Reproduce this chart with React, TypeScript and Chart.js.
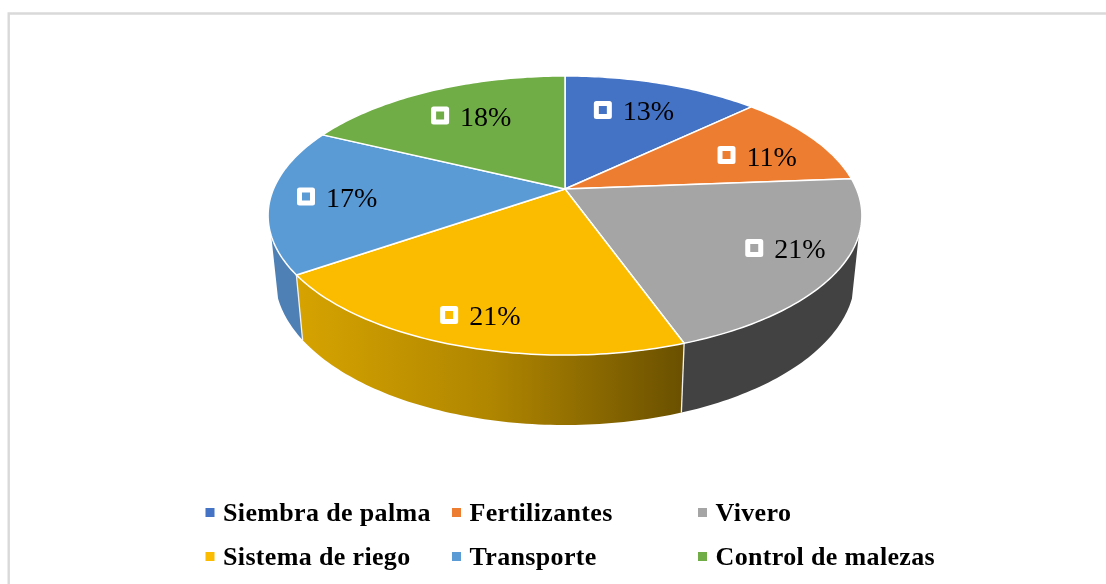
import React, { useEffect, useRef } from "react";
import { Chart, registerables } from "chart.js";

Chart.register(...registerables);

const categories = ["Siembra de palma", "Fertilizantes", "Vivero", "Sistema de riego", "Transporte", "Control de malezas"];
const shares = [13, 11, 21, 21, 17, 18];
const percentLabels = ["13%", "11%", "21%", "21%", "17%", "18%"];
const topColors = ["#4472C4", "#ED7D31", "#A5A5A5", "#FBBC00", "#5B9BD5", "#70AD47"];
const wallColors = ["#2F5597", "#A5561F", "#424242", "gradient", "#4E80B5", "#4E7A31"];

// Perspective of the pie disc: maps the unit disc to the screen.
const CX = 565, CY = 189, AX = 291.5, BY = 134.5, K = -0.19;
const WALL_SCALE_X = 0.977, WALL_SCALE_Y = 1.0625, WALL_DROP = 59.6;
const WALL_FROM = (109.1 * Math.PI) / 180, WALL_TO = (250.9 * Math.PI) / 180;
const LABEL_R = 0.72;
const labelNudgeX = [-6, 9.5, 28.5, -12.5, -18, 4.5];
const labelNudgeY = [0, 3.4, 2, 20, 0, 0];

const FONT = '"Liberation Serif", "Times New Roman", serif';

const top = (th: number, r = 1) => {
  const x = r * Math.sin(th), y = -r * Math.cos(th), d = 1 + K * y;
  return [CX + (AX * x) / d, CY + (BY * y) / d];
};
const bottom = (th: number) => {
  const x = Math.sin(th), y = -Math.cos(th), d = 1 + K * y;
  return [CX + (WALL_SCALE_X * AX * x) / d, CY + WALL_DROP + (WALL_SCALE_Y * BY * y) / d];
};

const pie3d = {
  id: "pie3d",
  beforeDraw(chart: any) {
    const { ctx, width, height } = chart;
    ctx.save();
    ctx.fillStyle = "#ffffff";
    ctx.fillRect(0, 0, width, height);
    ctx.strokeStyle = "#D9D9D9";
    ctx.lineWidth = 2.4;
    ctx.beginPath();
    ctx.moveTo(8.7, height + 2);
    ctx.lineTo(8.7, 13.5);
    ctx.lineTo(width + 2, 13.5);
    ctx.stroke();
    ctx.restore();
  },
  beforeDatasetDraw(chart: any) {
    const { ctx } = chart;
    const arcs = chart.getDatasetMeta(0).data;
    const angle = (a: any) => [a.startAngle + Math.PI / 2, a.endAngle + Math.PI / 2];
    ctx.save();
    ctx.lineJoin = "round";

    // side walls
    arcs.forEach((arc: any, i: number) => {
      const [s0, e0] = angle(arc);
      const s = Math.max(s0, WALL_FROM), e = Math.min(e0, WALL_TO);
      if (e <= s) return;
      const n = Math.ceil(((e - s) * 180) / Math.PI);
      ctx.beginPath();
      for (let j = 0; j <= n; j++) {
        const p = top(s + ((e - s) * j) / n);
        j ? ctx.lineTo(p[0], p[1]) : ctx.moveTo(p[0], p[1]);
      }
      for (let j = n; j >= 0; j--) {
        const p = bottom(s + ((e - s) * j) / n);
        ctx.lineTo(p[0], p[1]);
      }
      ctx.closePath();
      if (wallColors[i] === "gradient") {
        const a = top(e), b = top(s);
        const g = ctx.createLinearGradient(a[0], 0, b[0], 0);
        g.addColorStop(0, "#D6A300");
        g.addColorStop(0.5, "#B08600");
        g.addColorStop(1, "#6A5000");
        ctx.fillStyle = g;
      } else ctx.fillStyle = wallColors[i];
      ctx.fill();
    });
    // seams between walls
    ctx.strokeStyle = "#F2F2F2";
    ctx.lineWidth = 1.3;
    arcs.forEach((arc: any) => {
      const e = angle(arc)[1];
      if (e <= WALL_FROM || e >= WALL_TO) return;
      const a = top(e), b = bottom(e);
      ctx.beginPath();
      ctx.moveTo(a[0], a[1]);
      ctx.lineTo(b[0], b[1]);
      ctx.stroke();
    });

    // top faces
    ctx.strokeStyle = "#ffffff";
    ctx.lineWidth = 1.5;
    arcs.forEach((arc: any, i: number) => {
      const [s, e] = angle(arc);
      const n = Math.ceil(((e - s) * 180) / Math.PI);
      ctx.beginPath();
      ctx.moveTo(CX, CY);
      for (let j = 0; j <= n; j++) {
        const p = top(s + ((e - s) * j) / n);
        ctx.lineTo(p[0], p[1]);
      }
      ctx.closePath();
      ctx.fillStyle = topColors[i];
      ctx.fill();
      ctx.stroke();
    });

    // data labels
    ctx.textBaseline = "alphabetic";
    arcs.forEach((arc: any, i: number) => {
      const [s, e] = angle(arc);
      const p = top((s + e) / 2, LABEL_R);
      const cx = p[0] + labelNudgeX[i], cy = p[1] + labelNudgeY[i];
      const mx = cx - 29.5;
      ctx.strokeStyle = "#ffffff";
      ctx.lineWidth = 5;
      ctx.lineJoin = "round";
      ctx.strokeRect(mx - 6.5, cy - 6.5, 13, 13);
      ctx.fillStyle = "#000000";
      ctx.font = `28px ${FONT}`;
      ctx.textAlign = "left";
      ctx.fillText(percentLabels[i], cx - 9.5, cy + 10.5);
    });

    // legend
    const cols = [205.5, 452, 698];
    const rows = [512, 556];
    ctx.font = `bold 26px ${FONT}`;
    ctx.letterSpacing = "0.35px";
    categories.forEach((c, i) => {
      const x = cols[i % 3], y = rows[Math.floor(i / 3)];
      ctx.fillStyle = topColors[i];
      ctx.fillRect(x, y - 4, 9, 9);
      ctx.fillStyle = "#000000";
      ctx.fillText(c, x + 17.5, y + 9);
    });
    ctx.letterSpacing = "0px";
    ctx.restore();
    return false;
  },
};

export default function App() {
  const ref = useRef<HTMLCanvasElement>(null);
  useEffect(() => {
    const chart = new Chart(ref.current as HTMLCanvasElement, {
      type: "pie",
      data: {
        labels: categories,
        datasets: [{ data: shares, backgroundColor: topColors }],
      },
      options: {
        responsive: false,
        animation: false,
        rotation: 0,
        plugins: { legend: { display: false }, tooltip: { enabled: false } },
      },
      plugins: [pie3d],
    } as any);
    return () => chart.destroy();
  }, []);
  return (
    <div style={{ position: "fixed", left: 0, top: 0, width: 1106, height: 584, background: "#fff", overflow: "hidden" }}>
      <canvas ref={ref} width={1106} height={584} style={{ display: "block", width: 1106, height: 584, filter: "blur(0.4px)" }} />
    </div>
  );
}
